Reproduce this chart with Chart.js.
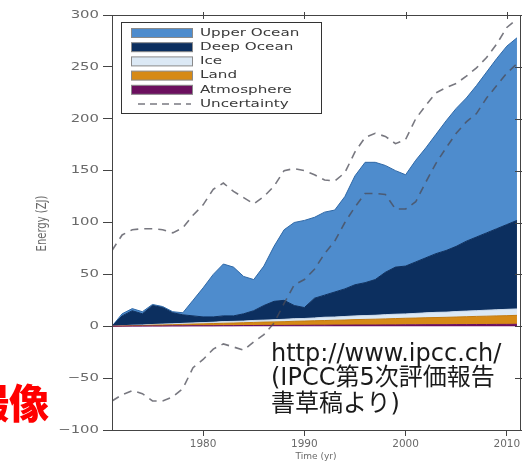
<!DOCTYPE html>
<html lang="ja"><head><meta charset="utf-8">
<script src="https://cdn.jsdelivr.net/npm/chart.js@4.4.1/dist/chart.umd.min.js"></script>
<style>
html,body{margin:0;padding:0;background:#fff;overflow:hidden;}
#wrap{position:relative;width:531px;height:467px;overflow:hidden;}
canvas{position:absolute;left:0;top:0;}
.note{position:absolute;left:271px;font-family:"DejaVu Sans","Noto Sans CJK JP",sans-serif;font-size:24px;line-height:27px;color:#1a1a1a;white-space:nowrap;}
#red{position:absolute;left:-31px;top:381px;font-family:"Noto Sans CJK JP",sans-serif;font-weight:900;font-size:40px;line-height:40px;color:#ff0000;white-space:nowrap;}
</style></head>
<body><div id="wrap"><canvas id="c" width="531" height="467"></canvas>
<div id="red">撮像</div>
<div class="note" style="top:340px">http://www.ipcc.ch/</div>
<div class="note" style="top:364px">(IPCC第5次評価報告</div>
<div class="note" style="top:390px">書草稿より)</div>
</div>
<script>
const years = [1971,1972,1973,1974,1975,1976,1977,1978,1979,1980,1981,1982,1983,1984,1985,1986,1987,1988,1989,1990,1991,1992,1993,1994,1995,1996,1997,1998,1999,2000,2001,2002,2003,2004,2005,2006,2007,2008,2009,2010,2011];
const atmosphere = [0,0.1,0.2,0.2,0.3,0.3,0.4,0.4,0.5,0.5,0.5,0.6,0.6,0.7,0.7,0.8,0.8,0.8,0.9,0.9,1.0,1.0,1.1,1.1,1.2,1.2,1.2,1.3,1.3,1.4,1.4,1.5,1.5,1.5,1.6,1.6,1.7,1.7,1.8,1.8,1.9];
const land = [0,0.2,0.4,0.5,0.8,1.0,1.1,1.4,1.6,1.8,2.1,2.3,2.5,2.7,3.0,3.2,3.4,3.6,3.9,4.1,4.3,4.5,4.7,4.9,5.2,5.4,5.6,5.8,6.1,6.3,6.5,6.7,6.9,7.1,7.3,7.6,7.8,8.0,8.2,8.4,8.6];
const ice = [0,0.2,0.4,0.5,0.6,0.8,0.8,1.0,1.1,1.2,1.3,1.6,1.6,1.6,1.9,1.9,2.1,2.3,2.5,2.5,2.7,3.2,3.1,3.4,3.6,3.7,3.8,4.1,4.2,4.2,4.5,4.7,5.0,5.0,5.3,5.4,5.5,5.8,5.9,6.1,6.2];
const deepOcean = [0,9.5,14,10.8,18.3,15.9,10.7,8.2,6.8,5.5,5.1,5.5,5.3,7,9.4,14.1,17.7,18.3,12.7,10.5,19,21.3,24.1,26.6,30,31.7,34.4,40.8,45.4,46.1,49.6,53.1,56.6,59.4,62.8,67.4,71,74.5,78.1,81.7,85.3];
const upperOcean = [0,2,2,2,1,1,1,2,15,28,41,50,47,36,30,38,53,68,80,84,78,80,79,89,105,116,113,103,93,88,98,106,115,125,133,138,146,155,164,172,176];
const uncertaintyHigh = [73,88,93,94,94,93,90,95,107,117,132,138,130,124,118,125,135,150,152,150,146,141,140,148,168,182,186,183,176,180,200,213,225,230,234,241,249,259,272,288,296];
const uncertaintyLow = [-72,-66,-62,-65,-72,-72,-68,-60,-40,-32,-22,-17,-20,-23,-15,-8,3,22,40,45,55,70,82,100,115,128,128,127,113,113,120,139,157,172,186,197,205,220,232,244,253];
const xTicks = [1980,1990,2000,2010];
const yTicks = [-100,-50,0,50,100,150,200,250,300];
const xTitle = 'Time (yr)';
const yTitle = 'Energy (ZJ)';

const mk = arr => years.map((yr, i) => ({x: yr, y: arr[i]}));
const UNC = 'rgba(75,75,85,0.75)';
const area = (label, arr, fillC, lineC, fill) => ({
  label, data: mk(arr), stack: 'energy', backgroundColor: fillC, borderColor: lineC,
  borderWidth: 1, fill, pointRadius: 0, tension: 0
});

function stretchLabels(scale, sx) {
  scale.drawLabels = function (ar) {
    const c = this.ctx;
    const items = this.getLabelItems(ar);
    for (const it of items) {
      const o = it.options;
      c.save();
      c.translate(o.translation[0], o.translation[1]);
      c.scale(sx, 1);
      c.font = it.font.string; c.fillStyle = o.color;
      c.textAlign = o.textAlign; c.textBaseline = o.textBaseline;
      c.fillText(it.label, 0, it.textOffset);
      c.restore();
    }
  };
}

const deco = {
  id: 'deco',
  afterUpdate(chart) {
    [['x', 1.05], ['y', 1.35]].forEach(([id, sx]) => {
      const s = chart.scales[id];
      if (s && !s._stretched) { stretchLabels(s, sx); s._stretched = true; }
    });
  },
  afterDraw(chart) {
    const c = chart.ctx, a = chart.chartArea, xs = chart.scales.x, ys = chart.scales.y;
    c.save();
    c.strokeStyle = '#444'; c.lineWidth = 1;
    c.strokeRect(a.left + 0.5, a.top + 0.5, a.right - a.left, a.bottom - a.top);
    c.beginPath();
    xTicks.forEach(v => { const px = Math.round(xs.getPixelForValue(v)) + 0.5; c.moveTo(px, a.top - 3); c.lineTo(px, a.top + 4); });
    yTicks.forEach(v => { const py = Math.round(ys.getPixelForValue(v)) + 0.5; c.moveTo(a.right - 5, py); c.lineTo(a.right + 2, py); });
    c.stroke();
    // axis titles
    c.fillStyle = '#6a6a6a'; c.font = '9px "DejaVu Sans"'; c.textAlign = 'center'; c.textBaseline = 'middle';
    c.fillText(xTitle, (a.left + a.right) / 2, 457);
    c.save(); c.translate(42, (a.top + a.bottom) / 2 + 1); c.rotate(-Math.PI / 2); c.scale(1, 1.4);
    c.font = '10px "DejaVu Sans"'; c.fillText(yTitle, 0, 0); c.restore();
    // legend
    const L = {x: a.left + 9, y: a.top + 7, w: 200, h: 91};
    c.fillStyle = '#fff'; c.fillRect(L.x, L.y, L.w, L.h);
    c.strokeStyle = '#333'; c.lineWidth = 1; c.strokeRect(L.x + 0.5, L.y + 0.5, L.w, L.h);
    [6, 5, 4, 3, 2, 0].forEach((di, k) => {
      const ds = chart.data.datasets[di];
      const cy = L.y + 11 + k * 14.2;
      if (ds.fill) {
        c.fillStyle = ds.backgroundColor; c.fillRect(L.x + 10, cy - 4.5, 62, 9);
        c.strokeStyle = '#8a8a8a'; c.lineWidth = 1; c.strokeRect(L.x + 10.5, cy - 4.5, 61, 9);
      } else {
        c.setLineDash([7, 5]); c.strokeStyle = ds.borderColor; c.lineWidth = 1.5;
        c.beginPath(); c.moveTo(L.x + 17, cy); c.lineTo(L.x + 70, cy); c.stroke(); c.setLineDash([]);
      }
      c.save();
      c.translate(L.x + 79, cy); c.scale(1.38, 1);
      c.fillStyle = '#3a3a3a'; c.font = '11px "DejaVu Sans"';
      c.textAlign = 'left'; c.textBaseline = 'middle'; c.fillText(ds.label, 0, 0);
      c.restore();
    });
    c.restore();
  }
};

new Chart(document.getElementById('c'), {
  type: 'line',
  data: {
    datasets: [
      {label: 'Uncertainty', data: mk(uncertaintyHigh), stack: 'uh', borderColor: UNC, borderWidth: 1.6, borderDash: [8, 6], fill: false, pointRadius: 0},
      {label: 'Uncertainty', data: mk(uncertaintyLow), stack: 'ul', borderColor: UNC, borderWidth: 1.6, borderDash: [8, 6], fill: false, pointRadius: 0},
      area('Atmosphere', atmosphere, '#6b0f5e', '#6b0f5e', 'origin'),
      area('Land', land, '#d68a16', '#c27a10', '-1'),
      area('Ice', ice, '#dce9f5', '#c8d8ea', '-1'),
      area('Deep Ocean', deepOcean, '#0c2f5f', '#0c2f5f', '-1'),
      area('Upper Ocean', upperOcean, '#4e8ccd', '#2f68a6', '-1')
    ]
  },
  options: {
    responsive: false, animation: false,
    layout: {padding: {left: 0, top: 15, right: 11, bottom: 0}},
    plugins: {legend: {display: false}, tooltip: {enabled: false}},
    scales: {
      x: {
        type: 'linear', min: 1971, max: 2011.3,
        afterBuildTicks: s => { s.ticks = xTicks.map(v => ({value: v})); },
        afterFit: s => { s.height = 37; },
        grid: {drawOnChartArea: false, drawTicks: true, tickLength: 6, color: '#444'},
        border: {color: '#444', width: 1},
        ticks: {font: {family: 'DejaVu Sans', size: 10}, color: '#6a6a6a', padding: 2, maxRotation: 0, autoSkip: false, callback: v => String(v)}
      },
      y: {
        stacked: true, min: -100, max: 300,
        afterBuildTicks: s => { s.ticks = yTicks.map(v => ({value: v})); },
        afterFit: s => { s.width = 112; },
        grid: {drawOnChartArea: false, drawTicks: true, tickLength: 9, color: '#444'},
        border: {color: '#444', width: 1},
        ticks: {font: {family: 'DejaVu Sans', size: 11}, color: '#6a6a6a', padding: 4, autoSkip: false, callback: v => String(v).replace('-', '\u2212')}
      }
    }
  },
  plugins: [deco]
});
</script>
</body></html>
